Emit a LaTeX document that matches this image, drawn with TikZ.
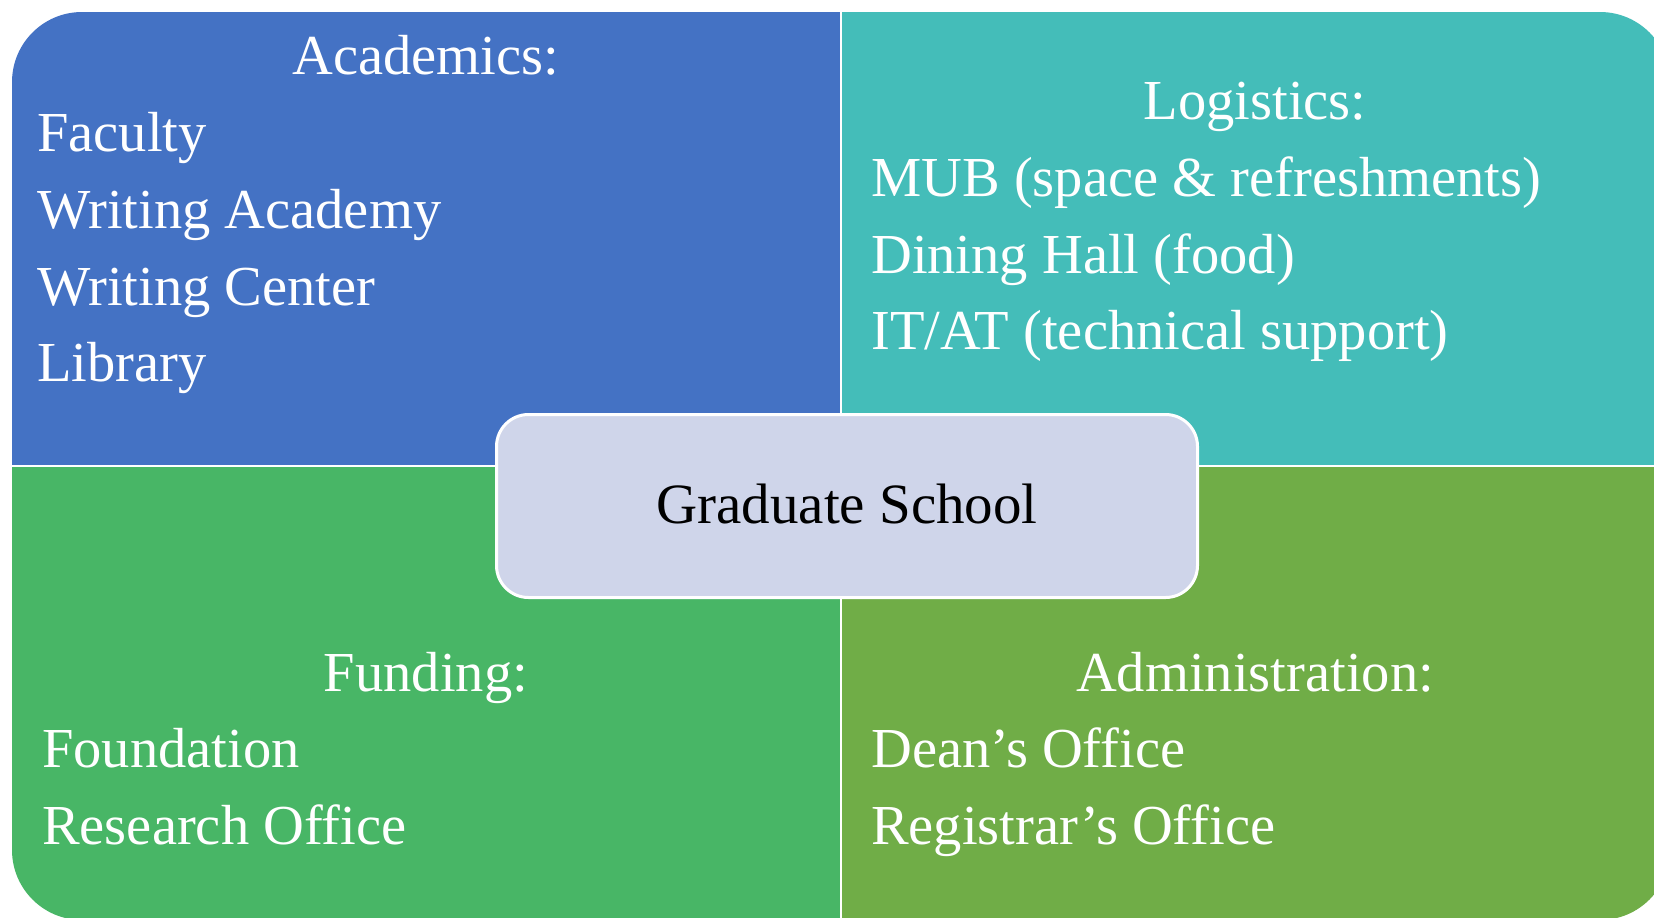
\documentclass[tikz,border=0pt]{standalone}
\usepackage{fontspec}
\setmainfont{Liberation Serif}
\definecolor{cTL}{RGB}{68,114,196}
\definecolor{cTR}{RGB}{68,189,185}
\definecolor{cBL}{RGB}{72,182,102}
\definecolor{cBR}{RGB}{112,173,71}
\definecolor{cCenter}{RGB}{207,213,234}
\begin{document}
\begin{tikzpicture}[x=1bp,y=-1bp,
  txt/.style={text=white,inner sep=0pt,font=\fontsize{56.5bp}{68bp}\selectfont},
  head/.style={txt,anchor=base},
  item/.style={txt,anchor=base west},
  divider/.style={white,line width=2.5bp},
  hub/.style={draw=white,line width=3bp,fill=cCenter,rounded corners=32bp,
    minimum width=701bp,minimum height=183bp,text=black,
    font=\fontsize{57bp}{68bp}\selectfont}]
\useasboundingbox (0,0) rectangle (1654,917);
\begin{scope}
  \clip[rounded corners=70bp] (12,12) rectangle (1670,920);
  \fill[cTL] (12,12) rectangle (841,466);
  \fill[cTR] (841,12) rectangle (1670,466);
  \fill[cBL] (12,466) rectangle (841,920);
  \fill[cBR] (841,466) rectangle (1670,920);
\end{scope}
\draw[divider] (841,12) -- (841,920);
\draw[divider] (12,466) -- (1670,466);
% top-left
\node[head] (acad) at (426,74) {Academics:};
\node[item] (fac) at (37,151) {Faculty};
\node[item] (wa) at (37,228) {Writing Academy};
\node[item] (wc) at (37,305) {Writing Center};
\node[item] (lib) at (37,381) {Library};
% top-right
\node[head] (log) at (1255,119) {Logistics:};
\node[item] (mub) at (871,196) {MUB (space \& refreshments)};
\node[item] (dh) at (871,273) {Dining Hall (food)};
\node[item] (it) at (871,349) {IT/AT (technical support)};
% bottom-left
\node[head] (fund) at (426,691) {Funding:};
\node[item] (fdn) at (42,767) {Foundation};
\node[item] (ro) at (42,844) {Research Office};
% bottom-right
\node[head] (adm) at (1255,691) {Administration:};
\node[item] (dean) at (871,767) {Dean’s Office};
\node[item] (reg) at (871,844) {Registrar’s Office};
% center
\node[hub] (gs) at (847,506) {\raisebox{4bp}{Graduate School}};
\end{tikzpicture}
\end{document}
